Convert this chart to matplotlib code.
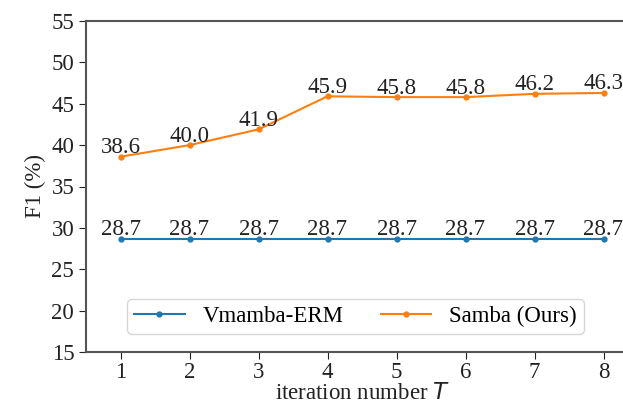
import matplotlib
matplotlib.use('Agg')
import matplotlib.pyplot as plt

iters = [1, 2, 3, 4, 5, 6, 7, 8]
vmamba = [28.7, 28.7, 28.7, 28.7, 28.7, 28.7, 28.7, 28.7]
samba = [38.6, 40.0, 41.9, 45.9, 45.8, 45.8, 46.2, 46.3]
yticks = [15, 20, 25, 30, 35, 40, 45, 50, 55]

plt.rcParams['font.family'] = ['Liberation Serif', 'DejaVu Serif']
plt.rcParams['mathtext.fontset'] = 'dejavusans'
fs = 16.5

fig = plt.figure(figsize=(6.23, 4.04), dpi=100)
ax = fig.add_axes([86/623, 1 - 352/404, (638 - 86)/623, (352 - 21)/404])

ax.plot(iters, vmamba, marker='o', markersize=3.5, lw=1.5, color='#1f77b4', label='Vmamba-ERM')
ax.plot(iters, samba, marker='o', markersize=3.5, lw=1.5, color='#ff7f0e', label='Samba (Ours)')

for x, y in zip(iters, vmamba):
    ax.annotate(f'{y:.1f}', (x, y), xytext=(0, -1), textcoords='offset points',
                ha='center', va='bottom', fontsize=fs, color='#222222')
for x, y in zip(iters, samba):
    ax.annotate(f'{y:.1f}', (x, y), xytext=(0, -1), textcoords='offset points',
                ha='center', va='bottom', fontsize=fs, color='#222222')

ax.set_xlim(0.5, 8.5)
ax.set_ylim(15, 55)
ax.set_xticks(iters)
ax.set_yticks(yticks)
ax.tick_params(labelsize=fs, colors='#222222', length=5)
ax.tick_params(axis='x', pad=2)
for s in ax.spines.values():
    s.set_color('#555555')
    s.set_linewidth(1.5)

ax.set_ylabel('F1 (%)', fontsize=fs, color='#222222', labelpad=4)
ax.set_xlabel('iteration number $T$', fontsize=fs, color='#222222', labelpad=0)

ax.legend(loc='lower left', bbox_to_anchor=(0.054, 0.02), ncol=2, fontsize=fs,
          columnspacing=1.6, handlelength=2.2, borderpad=0.3, edgecolor='#cccccc')

fig.savefig('out.png', dpi=100)
